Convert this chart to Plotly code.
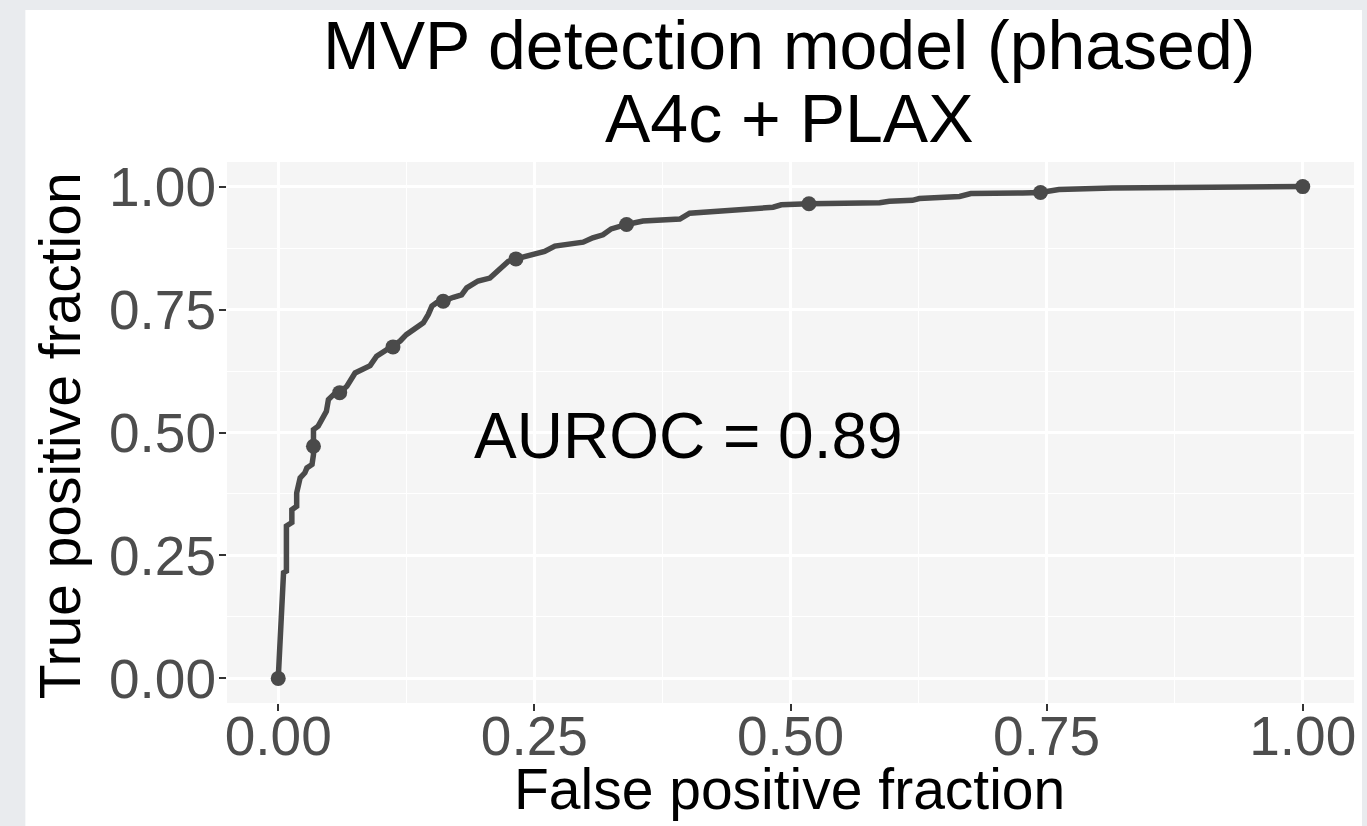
import plotly.graph_objects as go

# ROC curve (false positive fraction, true positive fraction)
fpr = [0.0, 0.0052, 0.008, 0.008, 0.0133, 0.0133, 0.018, 0.018, 0.0214, 0.026, 0.028, 0.033,
       0.0344, 0.0344, 0.0344, 0.039, 0.044, 0.047, 0.049, 0.054, 0.060, 0.067, 0.075, 0.0816,
       0.0897, 0.096, 0.101, 0.112, 0.119, 0.125, 0.1335, 0.1416, 0.1465, 0.150, 0.1547, 0.161,
       0.171, 0.179, 0.184, 0.195, 0.2066, 0.216, 0.2245, 0.232, 0.249, 0.260, 0.270, 0.281,
       0.2976, 0.307, 0.317, 0.325, 0.333, 0.340, 0.356, 0.392, 0.4016, 0.4275, 0.4535, 0.483,
       0.491, 0.518, 0.587, 0.5965, 0.619, 0.6257, 0.665, 0.676, 0.7265, 0.744, 0.762, 0.814,
       0.9116, 1.0]
tpr = [0.0, 0.215, 0.218, 0.31, 0.317, 0.343, 0.350, 0.377, 0.408, 0.418, 0.428, 0.435,
       0.455, 0.472, 0.506, 0.513, 0.533, 0.543, 0.567, 0.577, 0.581, 0.594, 0.621, 0.629,
       0.636, 0.655, 0.662, 0.674, 0.686, 0.699, 0.713, 0.723, 0.740, 0.757, 0.764, 0.767,
       0.775, 0.780, 0.794, 0.808, 0.814, 0.831, 0.848, 0.853, 0.862, 0.868, 0.879, 0.883,
       0.887, 0.896, 0.902, 0.914, 0.919, 0.923, 0.930, 0.934, 0.946, 0.950, 0.954, 0.958,
       0.963, 0.965, 0.967, 0.970, 0.972, 0.9756, 0.980, 0.9858, 0.987, 0.988, 0.994, 0.997,
       0.9985, 1.0]

# cutoff points shown as markers
cut_fpr = [0.0, 0.0344, 0.060, 0.112, 0.161, 0.232, 0.340, 0.518, 0.744, 1.0]
cut_tpr = [0.0, 0.472, 0.581, 0.674, 0.767, 0.853, 0.923, 0.965, 0.988, 1.0]

tick_vals = [0, 0.25, 0.5, 0.75, 1.0]
tick_text = ["0.00", "0.25", "0.50", "0.75", "1.00"]

title_line1 = "MVP detection model (phased)"
title_line2 = "A4c + PLAX"
auroc_label = "AUROC = 0.89"
x_title = "False positive fraction"
y_title = "True positive fraction"

FONT = "Liberation Sans, Arial, Helvetica, sans-serif"
LINE_COL = "#4a4a4a"
PAGE_GRAY = "#e9ebee"

W, H = 1367, 826
L, R, T, B = 227, 11, 162, 123
PW = W - L - R
PH = H - T - B


def px_x(px):
    return (px - L) / PW


def px_y(py):
    return (H - B - py) / PH


fig = go.Figure()
fig.add_trace(go.Scatter(x=fpr, y=tpr, mode="lines",
                         line=dict(color=LINE_COL, width=5.5), showlegend=False,
                         hoverinfo="skip"))
fig.add_trace(go.Scatter(x=cut_fpr, y=cut_tpr, mode="markers",
                         marker=dict(color=LINE_COL, size=15), showlegend=False))

axis_common = dict(
    tickvals=tick_vals, ticktext=tick_text,
    showgrid=True, gridcolor="white", gridwidth=2.6,
    minor=dict(showgrid=True, gridcolor="white", gridwidth=1.3, dtick=0.125, tick0=0),
    zeroline=False, showline=False,
    ticks="outside", ticklen=7, tickwidth=2, tickcolor="#333333",
    tickfont=dict(family=FONT, size=55, color="#4d4d4d"),
)

fig.update_layout(
    width=W, height=H,
    margin=dict(l=L, r=R, t=T, b=B),
    paper_bgcolor="white",
    plot_bgcolor="#f5f5f5",
    font=dict(family=FONT),
    xaxis=dict(range=[-0.05, 1.05], ticklabelstandoff=-22, **axis_common),
    yaxis=dict(range=[-0.05, 1.05], ticklabelstandoff=-8, **axis_common),
    annotations=[
        dict(text=title_line1, xref="paper", yref="paper", x=px_x(790), y=px_y(45),
             xanchor="center", yanchor="middle", showarrow=False,
             font=dict(family=FONT, size=68, color="black")),
        dict(text=title_line2, xref="paper", yref="paper", x=px_x(790), y=px_y(118),
             xanchor="center", yanchor="middle", showarrow=False,
             font=dict(family=FONT, size=68, color="black")),
        dict(text=auroc_label, xref="x", yref="y", x=0.4, y=0.492,
             xanchor="center", yanchor="middle", showarrow=False,
             font=dict(family=FONT, size=64, color="black")),
        dict(text=x_title, xref="paper", yref="paper", x=px_x(790), y=px_y(789),
             xanchor="center", yanchor="middle", showarrow=False,
             font=dict(family=FONT, size=57, color="black")),
        dict(text=y_title, xref="paper", yref="paper", x=px_x(60), y=px_y(436),
             xanchor="center", yanchor="middle", showarrow=False, textangle=-90,
             font=dict(family=FONT, size=57, color="black")),
    ],
    shapes=[
        dict(type="rect", xref="paper", yref="paper", layer="above",
             x0=px_x(-40), x1=px_x(25), y0=-1, y1=3,
             fillcolor=PAGE_GRAY, line=dict(width=0)),
        dict(type="rect", xref="paper", yref="paper", layer="above",
             x0=-1, x1=2, y0=px_y(10), y1=px_y(-40),
             fillcolor=PAGE_GRAY, line=dict(width=0)),
        dict(type="rect", xref="paper", yref="paper", layer="above",
             x0=px_x(1364), x1=px_x(1400), y0=-1, y1=3,
             fillcolor=PAGE_GRAY, line=dict(width=0)),
    ],
)

fig.write_html(
    "out.html",
    config={"displayModeBar": False},
    post_script="document.body.style.margin='0';document.body.style.overflow='hidden';",
)
